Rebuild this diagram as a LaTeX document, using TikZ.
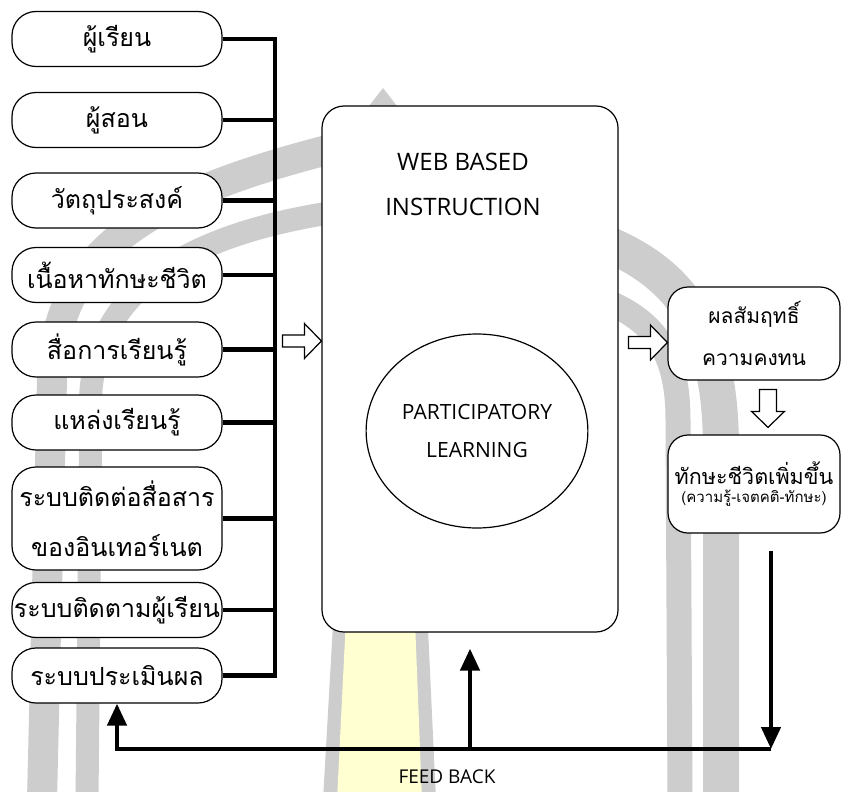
\documentclass[tikz,border=0pt]{standalone}
\usepackage{fontspec}
\newfontfamily\thai[Script=Thai]{Loma}
\newfontfamily\latin{Open Sans}
\usetikzlibrary{arrows.meta,calc,shapes.geometric}
\definecolor{wmgray}{RGB}{205,205,205}
\definecolor{wmyellow}{RGB}{255,255,210}
\begin{document}
\begin{tikzpicture}[x=1pt,y=-1pt,
  every node/.style={font=\thai},
  item/.style={draw, line width=1.2pt, fill=white, rounded corners=24pt,
    minimum width=210pt, minimum height=55pt, inner sep=0pt, align=center,
    font=\thai\fontsize{25}{50}\selectfont},
  result/.style={draw, line width=1.2pt, fill=white, rounded corners=20pt,
    minimum width=172pt, inner sep=0pt, align=center},
  hollow/.style={draw, line width=1.2pt, fill=white, line join=miter},
  fb/.style={line width=4.5pt, line join=miter},
  fbtip/.style={-{Triangle[length=22pt,width=19pt]}},
  bus/.style={line width=4.5pt, line join=miter}
]
\useasboundingbox (0,0) rectangle (843,792);

% background emblem: arches and central column
\begin{scope}
  \clip (0,0) rectangle (843,792);
  \draw[wmgray, line width=30pt] (42,800) -- (52,380) .. controls (55,250) and (150,195) .. (335,148);
  \draw[wmgray, line width=23pt] (87,800) -- (91,390) .. controls (100,290) and (185,235) .. (335,212);
  \draw[wmgray, line width=36pt] (721,800) -- (721,450) .. controls (721,340) and (690,280) .. (610,245);
  \draw[wmgray, line width=25pt] (680,800) -- (678,420) .. controls (678,360) and (660,325) .. (610,303);
  \fill[wmgray] (383,88) -- (362,115) -- (323,800) -- (436,800) -- (404,115) -- cycle;
  \fill[wmyellow] (383,118) -- (370,135) -- (337,800) -- (422,800) -- (396,135) -- cycle;
\end{scope}

% input components
\node[item] (b1) at (117,39) {ผู้เรียน};
\node[item] (b2) at (117,120) {ผู้สอน};
\node[item] (b3) at (117,200.5) {วัตถุประสงค์};
\node[item] (b4) at (117,275) {เนื้อหาทักษะชีวิต};
\node[item] (b5) at (117,349.5) {สื่อการเรียนรู้};
\node[item] (b6) at (117,422.5) {แหล่งเรียนรู้};
\node[item, minimum height=103pt] (b7) at (117,518.5) {ระบบติดต่อสื่อสาร\\ของอินเทอร์เนต};
\node[item] (b8) at (117,610) {ระบบติดตามผู้เรียน};
\node[item] (b9) at (117,675.5) {ระบบประเมินผล};

% collecting bus
\coordinate (bustop) at (275,0 |- b1.east);
\coordinate (busbot) at (275,0 |- b9.east);
\draw[bus] (b1.east) -- (bustop) -- (busbot) -- (b9.east);
\foreach \b in {b2,b3,b4,b5,b6,b7,b8}
  \draw[bus] (\b.east) -- (\b.east -| bustop);

% central process
\node[draw, line width=1.2pt, fill=white, rounded corners=22pt,
  minimum width=296pt, minimum height=526pt] (main) at (470,369) {};
\node[font=\latin\fontsize{24}{45}\selectfont, align=center] (wbi) at (463,184)
  {WEB BASED\\INSTRUCTION};
\node[draw, ellipse, line width=1.2pt, minimum width=206pt, minimum height=194pt,
  align=center, font=\latin\fontsize{21}{38}\selectfont] (pl) at (477,431)
  {PARTICIPATORY\\LEARNING};

% outcomes
\node[result, minimum height=93pt, font=\thai\fontsize{21}{42}\selectfont] (r1) at (754,333.5)
  {ผลสัมฤทธิ์\\ความคงทน};
\node[result, minimum height=98pt] (r2) at (754,484)
  {{\fontsize{21.5}{26}\selectfont ทักษะชีวิตเพิ่มขึ้น}\\[5pt]
   {\fontsize{15}{18}\selectfont (ความรู้-เจตคติ-ทักษะ)}};

% hollow flow arrows
\draw[hollow] ($(main.west)+(0,-28)$) -- ++(-17,-17.5) -- ++(0,11.5) -- ++(-22,0)
  -- ++(0,12) -- ++(22,0) -- ++(0,11.5) -- cycle;
\draw[hollow] ($(r1.west)+(0,9)$) -- ++(-17,-17.5) -- ++(0,11.5) -- ++(-22,0)
  -- ++(0,12) -- ++(22,0) -- ++(0,11.5) -- cycle;
\draw[hollow] ($(r2.north)+(14,-7)$) -- ++(-16.5,-16) -- ++(8,0) -- ++(0,-22)
  -- ++(17,0) -- ++(0,22) -- ++(8,0) -- cycle;

% feedback loop
\coordinate (dtop) at ($(r2.south)+(17,17)$);
\coordinate (fbR) at (dtop |- 0,749);
\draw[fb, fbtip] (fbR) -- (fbR -| b9.south) -- (b9.south);
\draw[fb, fbtip] (dtop) -- (fbR);
\draw[fb, fbtip] (main.south |- fbR) -- ($(main.south)+(0,16)$);
\node[font=\latin\fontsize{19}{22}\selectfont] (fbl) at (447,777) {FEED BACK};
\end{tikzpicture}
\end{document}
